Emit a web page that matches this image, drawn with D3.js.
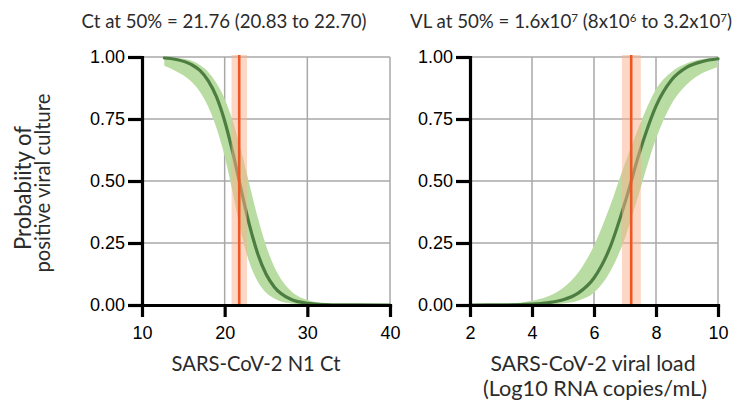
<!DOCTYPE html>
<html>
<head>
<meta charset="utf-8">
<script src="https://cdn.jsdelivr.net/npm/d3@7"></script>
<style>
  body { margin: 0; background: #fff; }
  svg { display: block; }
  .tick text { font-family: 'Liberation Sans', Arial, sans-serif; font-size: 18px; fill: #000; }
  .lbl { font-family: Lato, 'Open Sans', sans-serif; fill: #2b2b2b; }
</style>
</head>
<body>
<div class="visHolder"></div>
<script>
// ct panel values
let ctX = [12.7, 14, 16, 17, 18, 19, 20, 21, 22, 23, 24, 25, 26, 28, 30, 33, 36, 40];
let ctMid = [0.996, 0.991, 0.969, 0.946, 0.905, 0.840, 0.742, 0.612, 0.464, 0.322, 0.207, 0.125, 0.073, 0.023, 0.007, 0.001, 0.0002, 0];
let ctUpper = [1.0, 0.997, 0.985, 0.968, 0.940, 0.895, 0.831, 0.740, 0.621, 0.486, 0.353, 0.240, 0.154, 0.057, 0.020, 0.004, 0.001, 0];
let ctLower = [0.965, 0.945, 0.900, 0.860, 0.800, 0.715, 0.600, 0.450, 0.290, 0.170, 0.095, 0.050, 0.026, 0.006, 0.0015, 0.0002, 0, 0];
let ctFifty = [21.76, 20.83, 22.70];
let ctTicks = [10, 20, 30, 40];

// viral load panel values (log10 copies/mL)
let vlX = [2, 3, 4, 4.5, 5, 5.5, 6, 6.5, 7, 7.5, 8, 8.5, 9, 9.5, 10];
let vlMid = [0.0001, 0.0006, 0.0037, 0.0088, 0.021, 0.049, 0.109, 0.227, 0.413, 0.628, 0.802, 0.907, 0.959, 0.982, 0.993];
let vlUpper = [0.001, 0.004, 0.017, 0.034, 0.069, 0.132, 0.239, 0.393, 0.572, 0.734, 0.870, 0.940, 0.975, 0.992, 0.999];
let vlLower = [0, 0.0001, 0.001, 0.002, 0.006, 0.018, 0.050, 0.130, 0.270, 0.470, 0.670, 0.810, 0.890, 0.935, 0.960];
let vlFifty = [7.20, 6.90, 7.51];
let vlTicks = [2, 4, 6, 8, 10];

let yTicks = [0, 0.25, 0.5, 0.75, 1];

let width = 734,
  height = 403,
  plotTop = 57,
  plotBottom = 305;

let svg = d3
  .select('.visHolder')
  .append('svg')
  .attr('width', width)
  .attr('height', height);

let yScale = d3.scaleLinear().domain([0, 1]).range([plotBottom, plotTop]);

// shrink or grow the font so the text is as wide as in the picture
function fitText(sel, target) {
  let w = sel.node().getComputedTextLength();
  let fs = parseFloat(sel.attr('font-size'));
  sel.attr('font-size', (fs * target / w).toFixed(2));
}

function drawPanel(xs, mid, upper, lower, fifty, ticks, domain, left, right) {
  let xScale = d3.scaleLinear().domain(domain).range([left, right]);
  let g = svg.append('g');

  // grey grid
  g.selectAll('.hgrid')
    .data(yTicks.slice(1))
    .enter()
    .append('line')
    .attr('x1', left)
    .attr('x2', right)
    .attr('y1', d => yScale(d))
    .attr('y2', d => yScale(d))
    .attr('stroke', '#a8a8a8')
    .attr('stroke-width', 1.5);
  g.selectAll('.vgrid')
    .data(ticks.slice(1))
    .enter()
    .append('line')
    .attr('x1', d => xScale(d))
    .attr('x2', d => xScale(d))
    .attr('y1', plotTop)
    .attr('y2', plotBottom)
    .attr('stroke', '#a8a8a8')
    .attr('stroke-width', 1.5);

  // confidence band of the fit
  let area = d3
    .area()
    .x((d, i) => xScale(xs[i]))
    .y0((d, i) => yScale(lower[i]))
    .y1((d, i) => yScale(upper[i]))
    .curve(d3.curveMonotoneX);
  g.append('path').datum(xs).attr('d', area).attr('fill', '#b9dca2');

  let line = d3
    .line()
    .x((d, i) => xScale(xs[i]))
    .y(d => yScale(d))
    .curve(d3.curveMonotoneX);
  g.append('path')
    .datum(mid)
    .attr('d', line)
    .attr('fill', 'none')
    .attr('stroke', '#4c7d41')
    .attr('stroke-width', 3.2)
    .attr('stroke-linecap', 'round');

  // 50% value with its interval
  g.append('rect')
    .attr('x', xScale(fifty[1]))
    .attr('width', xScale(fifty[2]) - xScale(fifty[1]))
    .attr('y', plotTop - 2)
    .attr('height', plotBottom - plotTop + 4)
    .attr('fill', '#fbb08c')
    .attr('opacity', 0.5);
  g.append('line')
    .attr('x1', xScale(fifty[0]))
    .attr('x2', xScale(fifty[0]))
    .attr('y1', plotTop - 2)
    .attr('y2', plotBottom + 2)
    .attr('stroke', '#ee5626')
    .attr('stroke-width', 2.6);

  // axes
  let xAxis = d3.axisBottom(xScale).tickValues(ticks).tickSize(12).tickSizeOuter(0).tickPadding(9);
  let yAxis = d3.axisLeft(yScale).tickValues(yTicks).tickSize(14).tickSizeOuter(0).tickPadding(3).tickFormat(d3.format('.2f'));
  let ga = g.append('g').attr('transform', 'translate(0,' + plotBottom + ')').call(xAxis);
  let gy = g.append('g').attr('transform', 'translate(' + left + ',0)').call(yAxis);
  [ga, gy].forEach(a => {
    a.select('.domain').attr('stroke', '#000').attr('stroke-width', 3.2).attr('stroke-linecap', 'square');
    a.selectAll('.tick line').attr('stroke', '#000').attr('stroke-width', 3.2);
  });
  return xScale;
}

drawPanel(ctX, ctMid, ctUpper, ctLower, ctFifty, ctTicks, [10, 40], 142, 390);
drawPanel(vlX, vlMid, vlUpper, vlLower, vlFifty, vlTicks, [2, 10], 470, 718);

// titles above the panels
let t1 = svg.append('text')
  .attr('class', 'lbl')
  .attr('x', 224)
  .attr('y', 28)
  .attr('text-anchor', 'middle')
  .attr('font-size', 16)
  .text('Ct at 50% = 21.76 (20.83 to 22.70)');
fitText(t1, 285);

let t2 = svg.append('text')
  .attr('class', 'lbl')
  .attr('x', 571)
  .attr('y', 28)
  .attr('text-anchor', 'middle')
  .attr('font-size', 16);
let parts = [['VL at 50% = 1.6x10', 0], ['7', 1], [' (8x10', 0], ['6', 1], [' to 3.2x10', 0], ['7', 1], [')', 0]];
let prevSup = 0;
parts.forEach(p => {
  let s = t2.append('tspan').text(p[0]);
  if (p[1]) s.attr('font-size', '0.62em');
  if (p[1] !== prevSup) s.attr('dy', p[1] ? -6 : 6);
  prevSup = p[1];
});
fitText(t2, 322);

// y axis title
let yl1 = svg.append('text')
  .attr('class', 'lbl')
  .attr('transform', 'translate(31,188) rotate(-90)')
  .attr('text-anchor', 'middle')
  .attr('font-size', 19)
  .text('Probabiity of');
fitText(yl1, 124);
let yl2 = svg.append('text')
  .attr('class', 'lbl')
  .attr('transform', 'translate(50,183) rotate(-90)')
  .attr('text-anchor', 'middle')
  .attr('font-size', 19)
  .text('positive viral culture');
fitText(yl2, 179);

// x axis titles
let xl1 = svg.append('text')
  .attr('class', 'lbl')
  .attr('x', 256)
  .attr('y', 371)
  .attr('text-anchor', 'middle')
  .attr('font-size', 19)
  .text('SARS-CoV-2 N1 Ct');
fitText(xl1, 169);
let xl2 = svg.append('text')
  .attr('class', 'lbl')
  .attr('x', 593)
  .attr('y', 371)
  .attr('text-anchor', 'middle')
  .attr('font-size', 19)
  .text('SARS-CoV-2 viral load');
fitText(xl2, 205);
let xl3 = svg.append('text')
  .attr('class', 'lbl')
  .attr('x', 595)
  .attr('y', 396)
  .attr('text-anchor', 'middle')
  .attr('font-size', 19)
  .text('(Log10 RNA copies/mL)');
fitText(xl3, 224);
</script>
</body>
</html>
